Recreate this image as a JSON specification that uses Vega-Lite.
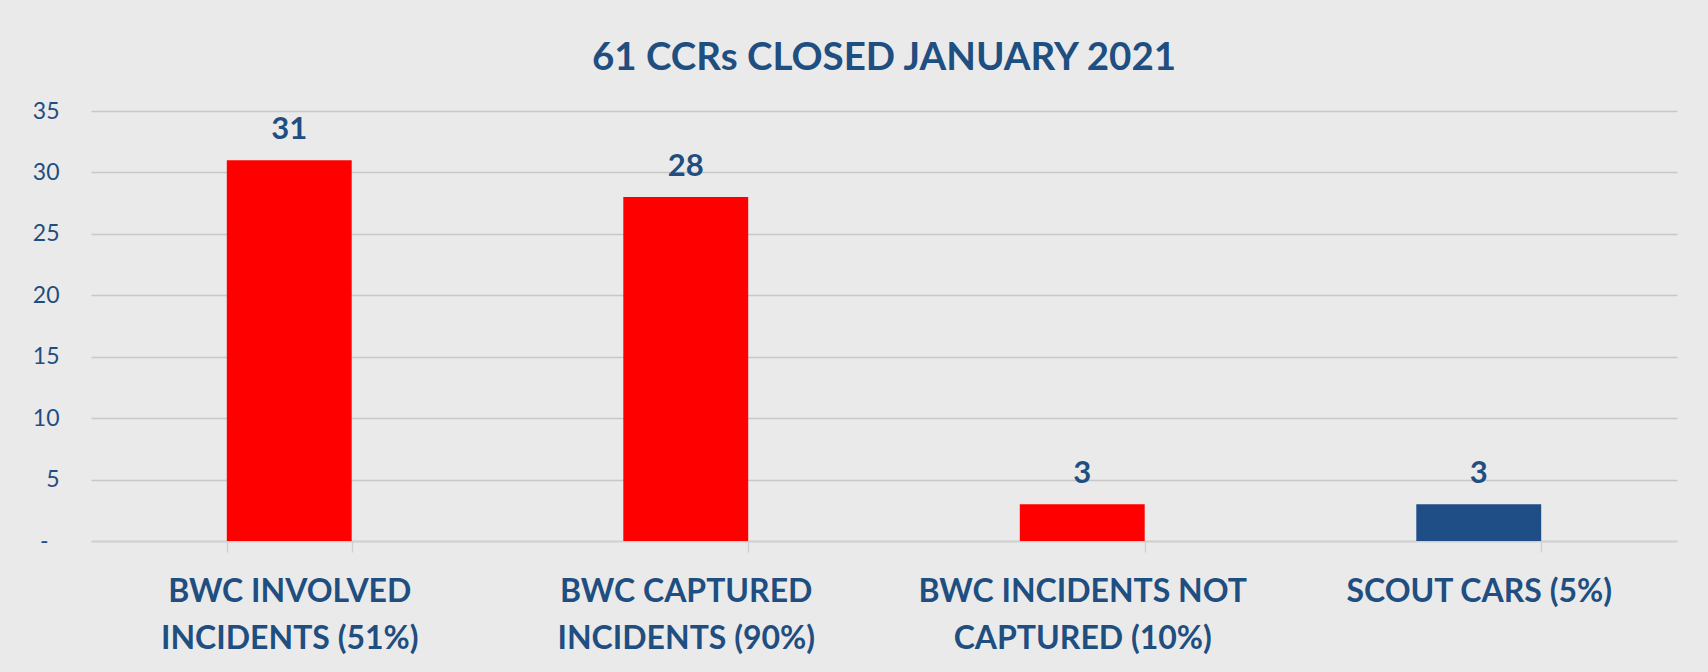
{
  "$schema": "https://vega.github.io/schema/vega-lite/v6.json",
  "autosize": {"type": "none"},
  "width": 1586,
  "height": 430,
  "padding": {"left": 91, "top": 111, "right": 31, "bottom": 131},
  "background": "#EBEAEB",
  "config": {"view": {"stroke": null}},
  "title": {
    "text": "61 CCRs CLOSED JANUARY 2021",
    "font": "Lato",
    "fontSize": 38.5,
    "fontWeight": "bold",
    "color": "#1F4E80",
    "anchor": "middle",
    "baseline": "alphabetic",
    "offset": -8
  },
  "data": {
    "values": [
      {"category": "BWC INVOLVED INCIDENTS (51%)", "count": 31, "group": "BWC"},
      {"category": "BWC CAPTURED INCIDENTS (90%)", "count": 28, "group": "BWC"},
      {"category": "BWC INCIDENTS NOT CAPTURED (10%)", "count": 3, "group": "BWC"},
      {"category": "SCOUT CARS (5%)", "count": 3, "group": "Scout"}
    ]
  },
  "encoding": {
    "x": {
      "field": "category",
      "type": "nominal",
      "sort": null,
      "scale": {"paddingInner": 0.685, "paddingOuter": 0.3425},
      "axis": {
        "title": null,
        "labelAngle": 0,
        "labelFont": "Lato",
        "labelFontSize": 32,
        "labelFontWeight": "bold",
        "labelColor": "#1F4E80",
        "labelBaseline": "alphabetic",
        "labelPadding": 49,
        "labelLineHeight": 47,
        "labelLimit": 0,
        "labelExpr": "datum.value == 'BWC INVOLVED INCIDENTS (51%)' ? ['BWC INVOLVED', 'INCIDENTS (51%)'] : datum.value == 'BWC CAPTURED INCIDENTS (90%)' ? ['BWC CAPTURED', 'INCIDENTS (90%)'] : datum.value == 'BWC INCIDENTS NOT CAPTURED (10%)' ? ['BWC INCIDENTS NOT', 'CAPTURED (10%)'] : datum.label",
        "tickBand": "extent",
        "tickSize": 11,
        "tickColor": "#CFCFCF",
        "tickWidth": 1.3,
        "domain": true,
        "domainColor": "#CFCFCF",
        "domainWidth": 1.3,
        "grid": false
      }
    },
    "y": {
      "field": "count",
      "type": "quantitative",
      "scale": {"domain": [0, 35], "nice": false},
      "axis": {
        "title": null,
        "values": [0, 5, 10, 15, 20, 25, 30, 35],
        "ticks": false,
        "domain": false,
        "grid": true,
        "gridColor": "#C8C8C8",
        "gridWidth": 1.3,
        "labelFont": "Lato",
        "labelFontSize": 23,
        "labelColor": "#1F4E80",
        "labelPadding": {"condition": {"test": "datum.value == 0", "value": 43}, "value": 32},
        "labelExpr": "datum.value == 0 ? '-' : datum.label"
      }
    }
  },
  "layer": [
    {
      "mark": {"type": "bar"},
      "encoding": {
        "color": {
          "field": "group",
          "type": "nominal",
          "scale": {"domain": ["BWC", "Scout"], "range": ["#FF0000", "#1F4E87"]},
          "legend": null
        }
      }
    },
    {
      "mark": {
        "type": "text",
        "font": "Lato",
        "fontSize": 31,
        "fontWeight": "bold",
        "color": "#1F4E80",
        "baseline": "alphabetic",
        "dy": -21
      },
      "encoding": {"text": {"field": "count", "type": "quantitative"}}
    }
  ]
}
